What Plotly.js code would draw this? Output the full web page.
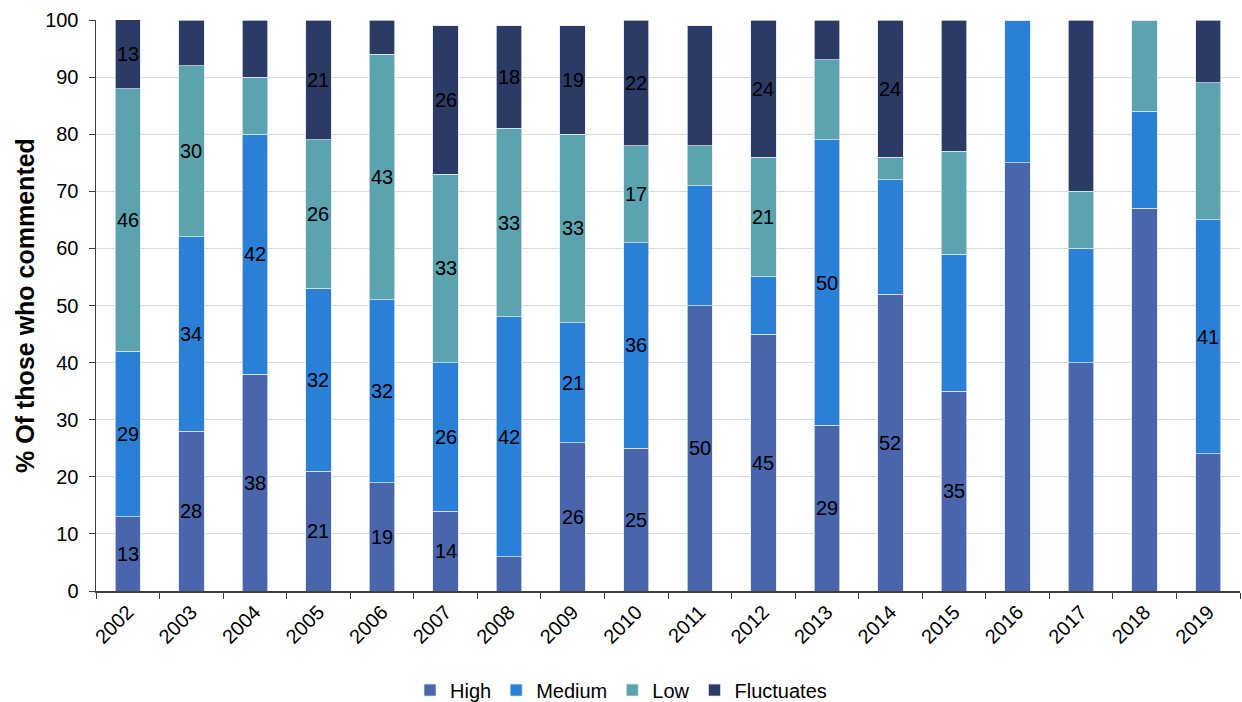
<!DOCTYPE html>
<html>
<head>
<meta charset="utf-8">
<script src="https://cdn.plot.ly/plotly-3.0.1.min.js"></script>
<style>
  html, body { margin: 0; padding: 0; background: #ffffff; }
  #chart { width: 1242px; height: 702px; }
</style>
</head>
<body>
<div id="chart"></div>
<script>
// Years surveyed
const years = ['2002','2003','2004','2005','2006','2007','2008','2009','2010',
               '2011','2012','2013','2014','2015','2016','2017','2018','2019'];

// Share of respondents (%) per rating
const high        = [13, 28, 38, 21, 19, 14,  6, 26, 25, 50, 45, 29, 52, 35, 75, 40, 67, 24];
const medium      = [29, 34, 42, 32, 32, 26, 42, 21, 36, 21, 10, 50, 20, 24, 25, 20, 17, 41];
const low         = [46, 30, 10, 26, 43, 33, 33, 33, 17,  7, 21, 14,  4, 18,  0, 10, 16, 24];
const fluctuates  = [13,  8, 10, 21,  6, 26, 18, 19, 22, 21, 24,  7, 24, 23,  0, 30,  0, 11];

// Which segments carry a printed value label
const highLabelled   = [1,1,1,1,1,1,0,1,1,1,1,1,1,1,0,0,0,0];
const mediumLabelled = [1,1,1,1,1,1,1,1,1,0,0,1,0,0,0,0,0,1];
const lowLabelled    = [1,1,0,1,1,1,1,1,1,0,1,0,0,0,0,0,0,0];
const fluctLabelled  = [1,0,0,1,0,1,1,1,1,0,1,0,1,0,0,0,0,0];

const seriesNames  = ['High', 'Medium', 'Low', 'Fluctuates'];
const seriesColors = ['#4965ac', '#2a7fd7', '#5aa3af', '#2c3b66'];

const values = [high, medium, low, fluctuates];
const flags  = [highLabelled, mediumLabelled, lowLabelled, fluctLabelled];

const FONT = 'Liberation Sans, Arial, sans-serif';
const Y_MAX = 100;

const traces = values.map((v, i) => ({
  type: 'bar',
  name: seriesNames[i],
  x: years,
  y: v,
  marker: {
    color: seriesColors[i],
    line: { color: 'rgba(225,232,245,0.9)', width: 0.8 }
  },
  hoverinfo: 'x+y+name'
}));

// Value labels, centred in the visible part of each stacked segment
// (x given as the category index on the category axis)
const labels = [];
years.forEach((yr, j) => {
  let base = 0;
  values.forEach((v, i) => {
    const top = base + v[j];
    if (flags[i][j]) {
      const mid = (base + Math.min(top, Y_MAX)) / 2;
      labels.push({
        x: j, y: mid, xref: 'x', yref: 'y',
        text: String(v[j]),
        showarrow: false,
        font: { family: FONT, size: 20, color: '#000000' },
        xanchor: 'center', yanchor: 'middle'
      });
    }
    base = top;
  });
});

const layout = {
  width: 1242,
  height: 702,
  barmode: 'stack',
  bargap: 0.6,
  paper_bgcolor: '#ffffff',
  plot_bgcolor: '#ffffff',
  margin: { l: 96, r: 2, t: 20, b: 111, autoexpand: false },
  font: { family: FONT, size: 20, color: '#000000' },
  annotations: labels,
  xaxis: {
    type: 'category',
    categoryarray: years,
    range: [-0.5, years.length - 0.5],
    automargin: false,
    tickangle: -45,
    tickfont: { family: FONT, size: 20, color: '#000000' },
    showline: true,
    linecolor: '#404040',
    linewidth: 1.5,
    ticks: 'outside',
    tickson: 'boundaries',
    ticklen: 6,
    tickcolor: '#404040',
    showgrid: false,
    zeroline: false
  },
  yaxis: {
    range: [0, Y_MAX],
    dtick: 10,
    automargin: false,
    tickfont: { family: FONT, size: 20, color: '#000000' },
    ticklabelstandoff: 6,
    showline: true,
    linecolor: '#404040',
    linewidth: 1.5,
    ticks: 'outside',
    ticklen: 6,
    tickcolor: '#404040',
    showgrid: true,
    gridcolor: '#d9d9d9',
    gridwidth: 1,
    zeroline: false,
    title: {
      text: '<b>% Of those who commented</b>',
      font: { family: FONT, size: 25, color: '#000000' },
      standoff: 3
    }
  },
  showlegend: true,
  legend: {
    orientation: 'h',
    xref: 'container',
    yref: 'container',
    x: 0.5,
    xanchor: 'center',
    y: 0.017,
    yanchor: 'middle',
    font: { family: FONT, size: 20, color: '#000000' },
    itemwidth: 30,
    traceorder: 'normal'
  }
};

Plotly.newPlot('chart', traces, layout, { displayModeBar: false, staticPlot: true });
</script>
</body>
</html>
